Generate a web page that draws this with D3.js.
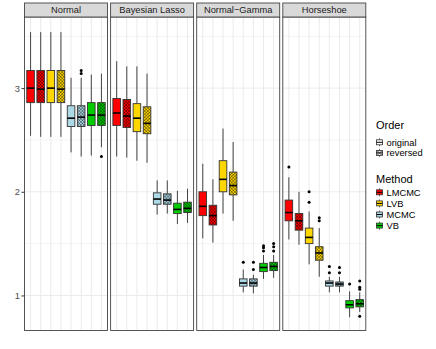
<!DOCTYPE html>
<html>
<head>
<meta charset="utf-8">
<script src="https://cdn.jsdelivr.net/npm/d3@7"></script>
<style>
  body { margin: 0; background: #fff; }
  text { font-family: "Liberation Sans", Arial, sans-serif; }
</style>
</head>
<body>
<div id="chart"></div>
<script>
// facets, methods and orders
var facets = ["Normal", "Bayesian Lasso", "Normal\u2212Gamma", "Horseshoe"];
var methods = ["LMCMC", "LVB", "MCMC", "VB"];
var orders = ["original", "reversed"];
var yTicks = [1, 2, 3];

// five number summaries [lower whisker, q1, median, q3, upper whisker]
// order: LMCMC orig, LMCMC rev, LVB orig, LVB rev, MCMC orig, MCMC rev, VB orig, VB rev
var normalStats = [
  [2.54, 2.86, 3.00, 3.17, 3.54],
  [2.53, 2.86, 2.99, 3.17, 3.54],
  [2.53, 2.86, 3.00, 3.17, 3.54],
  [2.53, 2.86, 2.99, 3.17, 3.54],
  [2.38, 2.63, 2.71, 2.83, 3.10],
  [2.34, 2.63, 2.72, 2.83, 3.10],
  [2.35, 2.64, 2.74, 2.86, 3.13],
  [2.43, 2.64, 2.74, 2.86, 3.14]
];
var normalOut = [[], [], [], [], [], [3.17, 3.14], [], [2.34]];

var lassoStats = [
  [2.34, 2.64, 2.76, 2.90, 3.26],
  [2.33, 2.62, 2.73, 2.89, 3.21],
  [2.30, 2.58, 2.71, 2.85, 3.21],
  [2.28, 2.56, 2.66, 2.82, 3.14],
  [1.78, 1.88, 1.93, 1.99, 2.11],
  [1.79, 1.88, 1.92, 1.98, 2.11],
  [1.69, 1.79, 1.83, 1.89, 2.01],
  [1.70, 1.80, 1.84, 1.90, 2.03]
];
var lassoOut = [[], [], [], [], [], [], [], []];

var gammaStats = [
  [1.55, 1.77, 1.86, 2.00, 2.27],
  [1.51, 1.68, 1.77, 1.87, 2.12],
  [1.79, 2.00, 2.12, 2.30, 2.61],
  [1.72, 1.97, 2.06, 2.19, 2.48],
  [1.03, 1.09, 1.12, 1.16, 1.25],
  [1.02, 1.09, 1.12, 1.16, 1.20],
  [1.16, 1.23, 1.27, 1.31, 1.39],
  [1.17, 1.24, 1.28, 1.32, 1.39]
];
var gammaOut = [[], [], [], [], [1.32], [1.32, 1.25], [1.48, 1.46, 1.43], [1.50, 1.47, 1.43]];

var horseStats = [
  [1.54, 1.72, 1.80, 1.92, 2.14],
  [1.49, 1.63, 1.72, 1.79, 2.00],
  [1.30, 1.50, 1.56, 1.65, 1.81],
  [1.18, 1.34, 1.41, 1.47, 1.65],
  [1.03, 1.09, 1.12, 1.14, 1.18],
  [1.03, 1.09, 1.11, 1.13, 1.18],
  [0.79, 0.88, 0.91, 0.95, 1.04],
  [0.84, 0.89, 0.92, 0.96, 1.03]
];
var horseOut = [[2.24], [], [2.00, 1.90], [1.75, 1.72], [1.28, 1.22], [1.27, 1.22], [1.11], [1.14, 1.08, 1.06, 0.80]];

var allStats = [normalStats, lassoStats, gammaStats, horseStats];
var allOut = [normalOut, lassoOut, gammaOut, horseOut];

var colours = {"LMCMC": "#ff0000", "LVB": "#ffd700", "MCMC": "#add8e6", "VB": "#00cd00"};

// layout
var width = 436, height = 349;
var panelTop = 17, panelBottom = 330.5, stripTop = 3;
var panelLeft0 = 24.5, panelW = 83, panelStep = 86.1;

var svg = d3.select("#chart")
  .append("svg")
    .attr("width", width)
    .attr("height", height);

// hatch patterns for reversed order
var defs = svg.append("defs");
function addPattern(id, base) {
  var p = defs.append("pattern")
    .attr("id", id)
    .attr("patternUnits", "userSpaceOnUse")
    .attr("width", 2.2).attr("height", 2.2)
    .attr("patternTransform", "rotate(45)");
  p.append("rect").attr("width", 2.2).attr("height", 2.2).attr("fill", base);
  p.append("line").attr("x1", 0).attr("y1", 0.4).attr("x2", 2.2).attr("y2", 0.4)
    .attr("stroke", "#000").attr("stroke-opacity", 0.55).attr("stroke-width", 0.6);
  p.append("line").attr("x1", 0.4).attr("y1", 0).attr("x2", 0.4).attr("y2", 2.2)
    .attr("stroke", "#000").attr("stroke-opacity", 0.55).attr("stroke-width", 0.6);
}
methods.forEach(function(m) { addPattern("hatch-" + m, colours[m]); });
addPattern("hatch-white", "#ffffff");

var groups = [];
methods.forEach(function(m) {
  orders.forEach(function(o) { groups.push(m + "." + o); });
});

var y = d3.scaleLinear()
  .domain([0.662, 3.686])
  .range([panelBottom, panelTop]);

facets.forEach(function(facet, fi) {
  var left = panelLeft0 + fi * panelStep;
  var x = d3.scalePoint()
    .domain(groups)
    .range([left, left + panelW])
    .padding(0.6);
  var bw = x.step() * 0.75;

  var g = svg.append("g");

  g.append("rect")
    .attr("x", left).attr("y", panelTop)
    .attr("width", panelW).attr("height", panelBottom - panelTop)
    .attr("fill", "#fff");

  // grid
  g.selectAll(".minor")
    .data([1.5, 2.5, 3.5])
    .enter().append("line")
      .attr("x1", left).attr("x2", left + panelW)
      .attr("y1", function(d) { return y(d); })
      .attr("y2", function(d) { return y(d); })
      .attr("stroke", "#ebebeb").attr("stroke-width", 0.5);
  g.selectAll(".major")
    .data(yTicks)
    .enter().append("line")
      .attr("x1", left).attr("x2", left + panelW)
      .attr("y1", function(d) { return y(d); })
      .attr("y2", function(d) { return y(d); })
      .attr("stroke", "#ebebeb").attr("stroke-width", 1);
  g.selectAll(".vgrid")
    .data(groups)
    .enter().append("line")
      .attr("x1", function(d) { return x(d); })
      .attr("x2", function(d) { return x(d); })
      .attr("y1", panelTop).attr("y2", panelBottom)
      .attr("stroke", "#ebebeb").attr("stroke-width", 1);

  // boxes
  var stats = allStats[fi], outs = allOut[fi];
  groups.forEach(function(key, gi) {
    var s = stats[gi];
    var m = key.split(".")[0], o = key.split(".")[1];
    var cx = x(key);
    var fill = o === "reversed" ? "url(#hatch-" + m + ")" : colours[m];
    g.append("line")
      .attr("x1", cx).attr("x2", cx)
      .attr("y1", y(s[4])).attr("y2", y(s[3]))
      .attr("stroke", "#444").attr("stroke-width", 1);
    g.append("line")
      .attr("x1", cx).attr("x2", cx)
      .attr("y1", y(s[1])).attr("y2", y(s[0]))
      .attr("stroke", "#444").attr("stroke-width", 1);
    g.append("rect")
      .attr("x", cx - bw / 2).attr("y", y(s[3]))
      .attr("width", bw).attr("height", y(s[1]) - y(s[3]))
      .attr("fill", fill)
      .attr("stroke", "#333").attr("stroke-width", 0.9);
    g.append("line")
      .attr("x1", cx - bw / 2).attr("x2", cx + bw / 2)
      .attr("y1", y(s[2])).attr("y2", y(s[2]))
      .attr("stroke", "#000").attr("stroke-width", 1.6);
    g.selectAll(null)
      .data(outs[gi])
      .enter().append("circle")
        .attr("cx", cx)
        .attr("cy", function(d) { return y(d); })
        .attr("r", 1.5)
        .attr("fill", "#000");
  });

  // border
  g.append("rect")
    .attr("x", left).attr("y", panelTop)
    .attr("width", panelW).attr("height", panelBottom - panelTop)
    .attr("fill", "none")
    .attr("stroke", "#444").attr("stroke-width", 0.9);

  // strip
  g.append("rect")
    .attr("x", left).attr("y", stripTop)
    .attr("width", panelW).attr("height", panelTop - stripTop)
    .attr("fill", "#d9d9d9")
    .attr("stroke", "#444").attr("stroke-width", 0.9);
  g.append("text")
    .attr("x", left + panelW / 2)
    .attr("y", (stripTop + panelTop) / 2)
    .attr("dy", "0.35em")
    .attr("text-anchor", "middle")
    .attr("font-size", "9.3px")
    .attr("fill", "#1a1a1a")
    .text(facet);
});

// y axis
var yAxis = svg.append("g")
  .attr("transform", "translate(" + panelLeft0 + ",0)")
  .call(d3.axisLeft(y).tickValues(yTicks).tickSize(3).tickPadding(1.5).tickFormat(d3.format("d")));
yAxis.select(".domain").remove();
yAxis.selectAll("line").attr("stroke", "#333");
yAxis.selectAll("text")
  .attr("fill", "#4d4d4d")
  .style("font-size", "9.3px")
  .style("font-family", "Liberation Sans, Arial, sans-serif");

// legend
var legX = 376;
function keyGlyph(cy, fill) {
  var kx = legX + 3.5;
  svg.append("line")
    .attr("x1", kx).attr("x2", kx).attr("y1", cy - 4).attr("y2", cy + 4)
    .attr("stroke", "#444").attr("stroke-width", 0.8);
  svg.append("rect")
    .attr("x", kx - 3).attr("y", cy - 2.5)
    .attr("width", 6).attr("height", 5)
    .attr("fill", fill)
    .attr("stroke", "#333").attr("stroke-width", 0.8);
  svg.append("line")
    .attr("x1", kx - 3).attr("x2", kx + 3).attr("y1", cy).attr("y2", cy)
    .attr("stroke", "#000").attr("stroke-width", 1);
}
function legText(px, py, txt, size) {
  svg.append("text")
    .attr("x", px).attr("y", py)
    .attr("font-size", size)
    .attr("fill", "#000")
    .text(txt);
}

legText(legX, 128.5, "Order", "11px");
orders.forEach(function(o, i) {
  var cy = 142.3 + i * 10.6;
  keyGlyph(cy, o === "reversed" ? "url(#hatch-white)" : "#fff");
  legText(legX + 10.5, cy + 3.2, o, "9.3px");
});

legText(legX, 183, "Method", "11px");
methods.forEach(function(m, i) {
  var cy = 192.3 + i * 11.1;
  keyGlyph(cy, colours[m]);
  legText(legX + 10.5, cy + 3.2, m, "9.3px");
});
</script>
</body>
</html>
